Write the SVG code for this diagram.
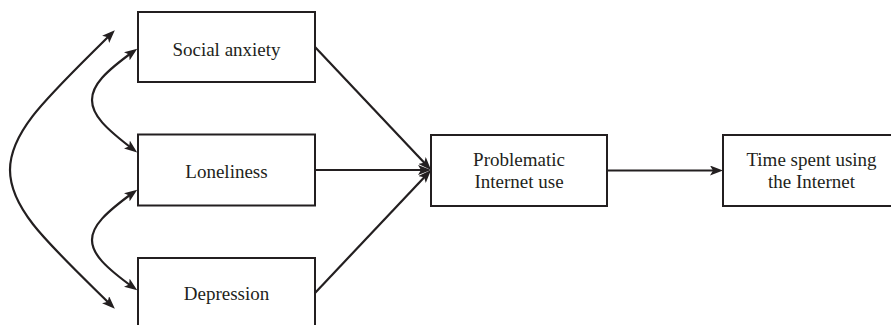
<svg xmlns="http://www.w3.org/2000/svg" width="891" height="325" viewBox="0 0 891 325">
  <style>
    .box { fill: #ffffff; stroke: #231f20; stroke-width: 2; }
    .lbl { font-family: "Liberation Serif", "Times New Roman", serif; font-size: 19px; fill: #231f20; text-anchor: middle; }
    .edge { fill: none; stroke: #231f20; stroke-width: 2.2; }
    .arr { marker-end: url(#ah); }
    .bi { marker-start: url(#ah); marker-end: url(#ah); }
  </style>
  <defs>
    <marker id="ah" viewBox="0 0 13 10" markerWidth="13" markerHeight="10" refX="9" refY="5" orient="auto-start-reverse" markerUnits="userSpaceOnUse">
      <path d="M0,0 L13,5 L0,10 L3,5 z" fill="#231f20"/>
    </marker>
  </defs>
  <rect width="891" height="325" fill="#ffffff"/>

  <g id="social-anxiety">
    <rect class="box" x="138" y="12" width="177" height="70"/>
    <text class="lbl" x="226.5" y="56">Social anxiety</text>
  </g>
  <g id="loneliness">
    <rect class="box" x="138" y="134.5" width="177" height="71"/>
    <text class="lbl" x="226.5" y="178">Loneliness</text>
  </g>
  <g id="depression">
    <rect class="box" x="138" y="258" width="177" height="80"/>
    <text class="lbl" x="226.5" y="300">Depression</text>
  </g>
  <g id="problematic-internet-use">
    <rect class="box" x="431" y="135" width="176" height="71"/>
    <text class="lbl" x="519" y="166">Problematic</text>
    <text class="lbl" x="519" y="188">Internet use</text>
  </g>
  <g id="time-spent">
    <rect class="box" x="723" y="135" width="180" height="71"/>
    <text class="lbl" x="811.5" y="166">Time spent using</text>
    <text class="lbl" x="811.5" y="188">the Internet</text>
  </g>

  <g id="connectors">
    <path class="edge bi" d="M112,33 C50,95 10,130 10,170 C10,210 50,245 112,306"/>
    <path class="edge bi" d="M134,51 C105,72 92,85 92,100 C92,115 105,128 134,150"/>
    <path class="edge bi" d="M134,192 C105,213 92,226 92,240 C92,254 105,267 134,288"/>
    <path class="edge arr" d="M315,47 L428.3,167.1"/>
    <path class="edge arr" d="M315,170 L427,170"/>
    <path class="edge arr" d="M315,293 L428.3,172.9"/>
    <path class="edge arr" d="M607,170.5 L719,170.5"/>
  </g>
</svg>
